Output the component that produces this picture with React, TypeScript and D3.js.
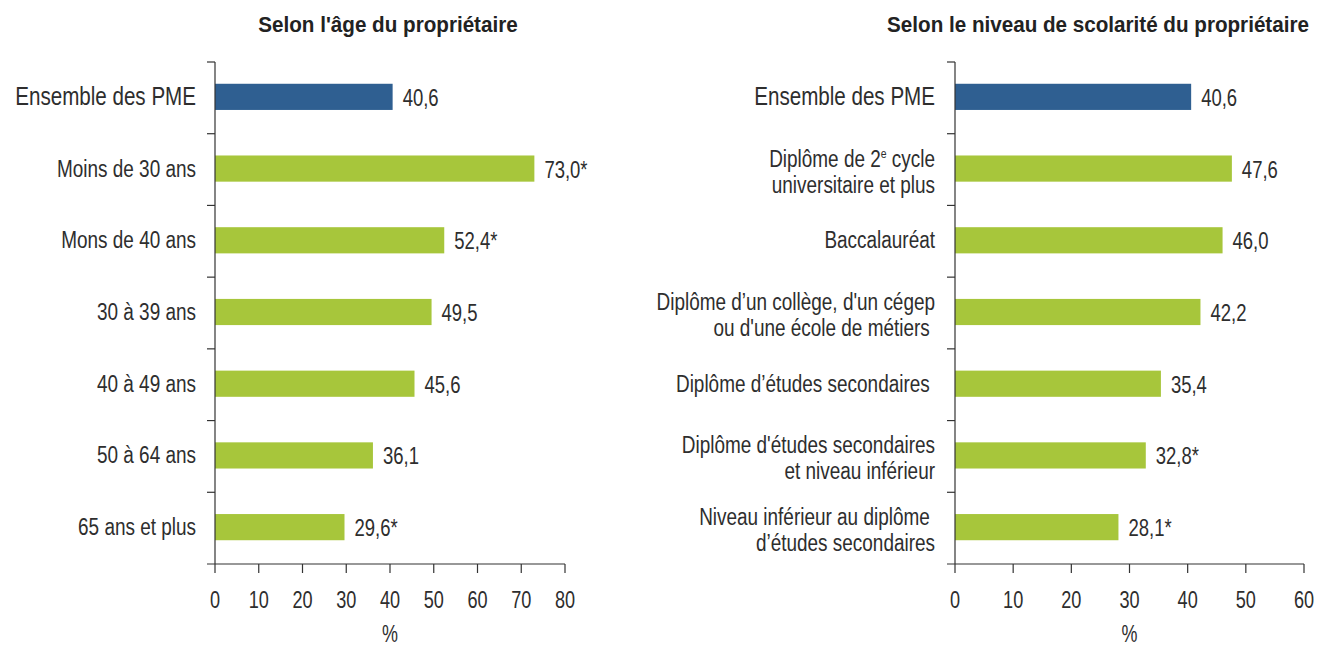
import React from "react";
import * as d3 from "d3";

const ageCategories = ["Ensemble des PME", "Moins de 30 ans", "Mons de 40 ans", "30 à 39 ans", "40 à 49 ans", "50 à 64 ans", "65 ans et plus"];
const ageValues = [40.6, 73.0, 52.4, 49.5, 45.6, 36.1, 29.6];
const ageFlags = ["", "*", "*", "", "", "", "*"];
const ageTicks = [0, 10, 20, 30, 40, 50, 60, 70, 80];

const eduCategories = [
  ["Ensemble des PME"],
  ["Diplôme de 2^e^ cycle", "universitaire et plus"],
  ["Baccalauréat"],
  ["Diplôme d’un collège, d'un cégep", "ou d'une école de métiers "],
  ["Diplôme d’études secondaires "],
  ["Diplôme d'études secondaires", "et niveau inférieur"],
  ["Niveau inférieur au diplôme ", "d’études secondaires"],
];
const eduValues = [40.6, 47.6, 46.0, 42.2, 35.4, 32.8, 28.1];
const eduFlags = ["", "", "", "", "", "*", "*"];
const eduTicks = [0, 10, 20, 30, 40, 50, 60];

const titles = ["Selon l'âge du propriétaire", "Selon le niveau de scolarité du propriétaire"];
const axisTitle = "%";

const FONT = "'Liberation Sans', Arial, Helvetica, sans-serif";
const SX = 0.824;
const BLUE = "#2f5f91";
const GREEN = "#a7c63b";
const TEXT = "#2e2e2e";
const AXIS = "#333333";

const fmt = (v: number) => v.toFixed(1).replace(".", ",");

function T({ x, y, size, anchor = "start", sx = SX, bold = false, fill = TEXT, children }: {
  x: number; y: number; size: number; anchor?: string; sx?: number; bold?: boolean; fill?: string; children: React.ReactNode;
}) {
  return (
    <text transform={`translate(${x},${y}) scale(${sx},1)`} textAnchor={anchor} fontSize={size}
      fontWeight={bold ? "bold" : "normal"} fill={fill} style={{ whiteSpace: "pre" }}>
      {children}
    </text>
  );
}

function LabelLine({ text, x, y, size }: { text: string; x: number; y: number; size: number }) {
  const parts = text.split("^");
  return (
    <T x={x} y={y} size={size} anchor="end">
      {parts.map((p, i) =>
        i % 2 === 1 ? (
          <tspan key={i} fontSize={size * 0.55} dy={-size * 0.36}>{p}</tspan>
        ) : (
          <tspan key={i} dy={i > 0 ? size * 0.36 : 0}>{p}</tspan>
        )
      )}
    </T>
  );
}

function Panel({
  cats, values, flags, ticks, title, x0, x1, labelRight, titleX,
}: {
  cats: string[][]; values: number[]; flags: string[]; ticks: number[]; title: string;
  x0: number; x1: number; labelRight: number; titleX: number;
}) {
  const top = 62, bottom = 564;
  const x = d3.scaleLinear().domain([ticks[0], ticks[ticks.length - 1]]).range([x0, x1]);
  const keys = cats.map((_, i) => String(i));
  const y = d3.scaleBand<string>().domain(keys).range([top, bottom]).padding(0);
  const step = y.step();
  const barH = step * 0.365;
  return (
    <g fontFamily={FONT}>
      <T x={titleX} y={32} size={21.5} anchor="middle" sx={0.96} bold fill="#222">{title}</T>
      {keys.map((k, i) => {
        const c = (y(k) as number) + step / 2;
        const lines = cats[i];
        return (
          <g key={k}>
            <rect x={x(0)} y={c - barH / 2 - 1} width={x(values[i]) - x(0)} height={barH} fill={i === 0 ? BLUE : GREEN} />
            <T x={x(values[i]) + 10} y={c + 8} size={24.5} sx={0.755}>{fmt(values[i]) + flags[i]}</T>
            {lines.length === 1 ? (
              <LabelLine text={lines[0]} x={labelRight} y={c + (i === 0 ? 7.5 : 7)} size={i === 0 ? 25 : 23} />
            ) : (
              lines.map((ln, j) => (
                <LabelLine key={j} text={ln} x={labelRight} y={c - 3 + j * 26} size={23} />
              ))
            )}
          </g>
        );
      })}
      {/* y axis */}
      <line x1={x0} x2={x0} y1={top} y2={bottom} stroke={AXIS} strokeWidth={1.2} />
      {keys.map((k) => (
        <line key={"t" + k} x1={x0 - 8} x2={x0} y1={y(k) as number} y2={y(k) as number} stroke={AXIS} strokeWidth={1.2} />
      ))}
      {/* x axis */}
      <line x1={x0 - 8} x2={x1} y1={bottom} y2={bottom} stroke={AXIS} strokeWidth={1.2} />
      {ticks.map((t) => (
        <g key={"x" + t}>
          <line x1={x(t)} x2={x(t)} y1={bottom} y2={bottom + 9} stroke={AXIS} strokeWidth={1.2} />
          <T x={x(t)} y={608} size={24.5} sx={0.74} anchor="middle">{String(t)}</T>
        </g>
      ))}
      <T x={(x0 + x1) / 2} y={642} size={23} sx={0.78} anchor="middle">{axisTitle}</T>
    </g>
  );
}

export default function App() {
  return (
    <svg width={1328} height={647} style={{ position: "absolute", left: 0, top: 0, background: "#fff" }}>
      <Panel cats={ageCategories.map((c) => [c])} values={ageValues} flags={ageFlags} ticks={ageTicks}
        title={titles[0]} x0={215} x1={565} labelRight={196} titleX={388} />
      <Panel cats={eduCategories} values={eduValues} flags={eduFlags} ticks={eduTicks}
        title={titles[1]} x0={955} x1={1304} labelRight={935} titleX={1098} />
    </svg>
  );
}
